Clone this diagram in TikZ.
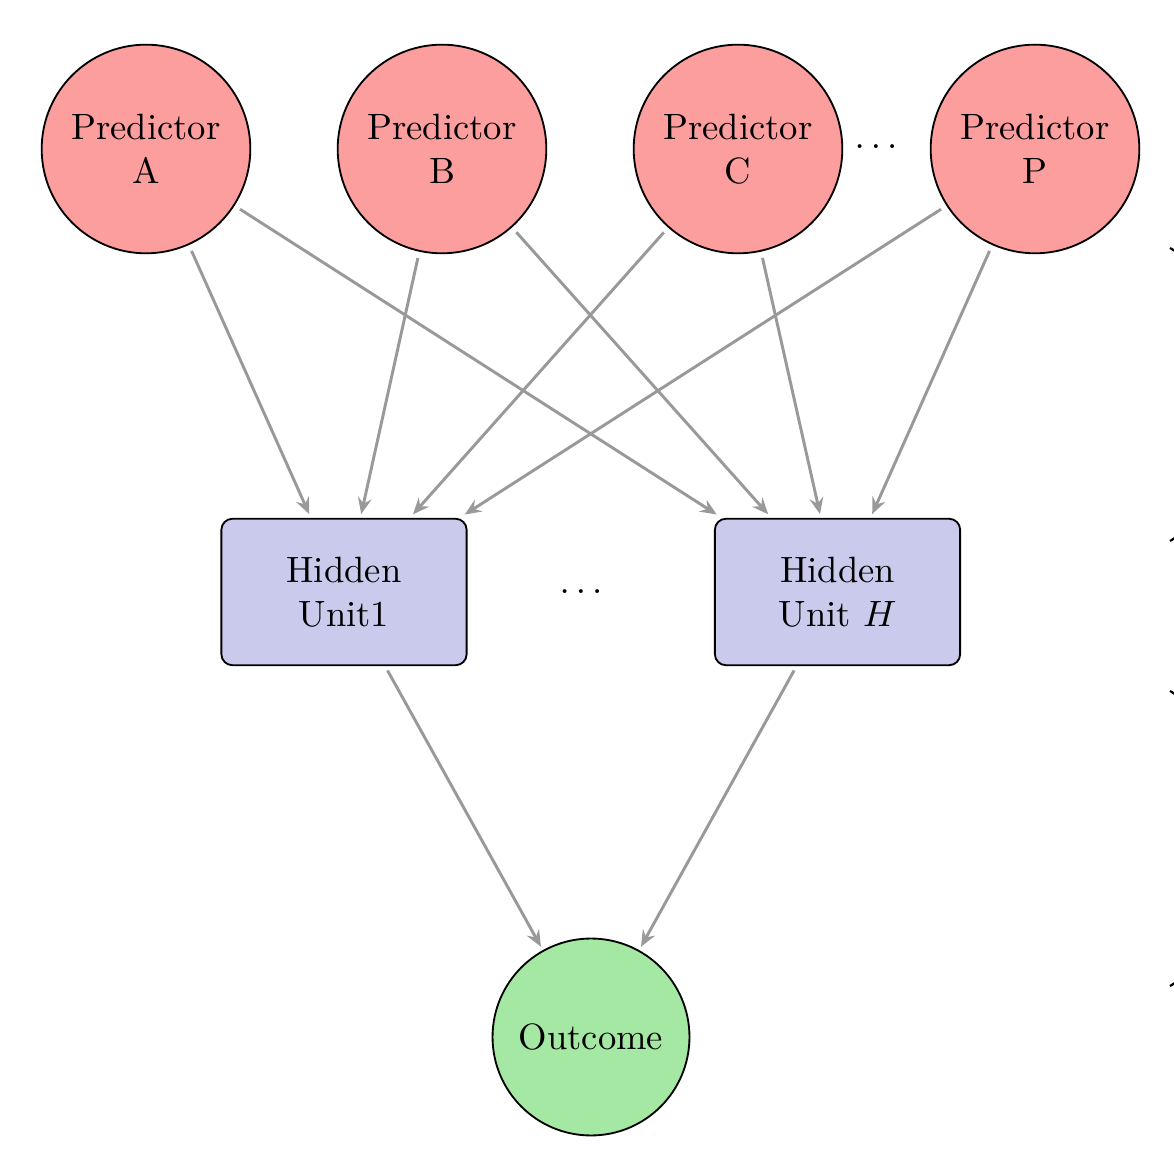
\documentclass[tikz,border=0pt]{standalone}
\usetikzlibrary{arrows.meta,decorations.pathreplacing}
\definecolor{predcol}{RGB}{252,158,158}
\definecolor{hidcol}{RGB}{202,202,236}
\definecolor{outcol}{RGB}{164,232,164}
\definecolor{edgecol}{RGB}{153,153,153}
\begin{document}
\begin{tikzpicture}[x=0.2732pt,y=-0.2732pt,
  prednode/.style={circle,draw=black,line width=0.5pt,fill=predcol,minimum size=57pt,inner sep=0pt,outer sep=1.5pt,align=center},
  hidnode/.style={rectangle,rounded corners=3pt,draw=black,line width=0.5pt,fill=hidcol,minimum width=67pt,minimum height=40pt,inner sep=0pt,outer sep=1pt,align=center},
  outnode/.style={circle,draw=black,line width=0.5pt,fill=outcol,minimum size=53.8pt,inner sep=0pt,outer sep=1pt,align=center},
  conn/.style={draw=edgecol,line width=0.8pt,-{Stealth[length=4.5pt,width=3.8pt,inset=1.6pt]},shorten <=0.5pt,shorten >=0.3pt},
  bracestyle/.style={draw=black,line width=0.6pt,decorate,decoration={brace,amplitude=10pt}}]
\useasboundingbox (0,0) rectangle (1174,1162);
\node[prednode] (pa) at (146,149) {Predictor\\A};
\node[prednode] (pb) at (442,149) {Predictor\\B};
\node[prednode] (pc) at (738,149) {Predictor\\C};
\node[prednode] (pp) at (1035,149) {Predictor\\P};
\node[inner sep=0pt] (dtop) at (876,147) {$\ldots$};
\node[hidnode] (h1) at (344,592) {Hidden\\Unit1};
\node[hidnode] (hh) at (837.5,592) {Hidden\\Unit $H$};
\node[inner sep=0pt] (dmid) at (581,592) {$\ldots$};
\node[outnode] (out) at (591,1037) {Outcome};
\foreach \p in {pa,pb,pc,pp}{
  \draw[conn] (\p) -- (h1);
  \draw[conn] (\p) -- (hh);
}
\draw[conn] (h1) -- (out);
\draw[conn] (hh) -- (out);
\coordinate (b1t) at (1170,248);
\coordinate (b1b) at (1170,541);
\coordinate (b2t) at (1170,691);
\coordinate (b2b) at (1170,986);
\draw[bracestyle] (b1t) -- (b1b);
\draw[bracestyle] (b2t) -- (b2b);
\end{tikzpicture}
\end{document}
